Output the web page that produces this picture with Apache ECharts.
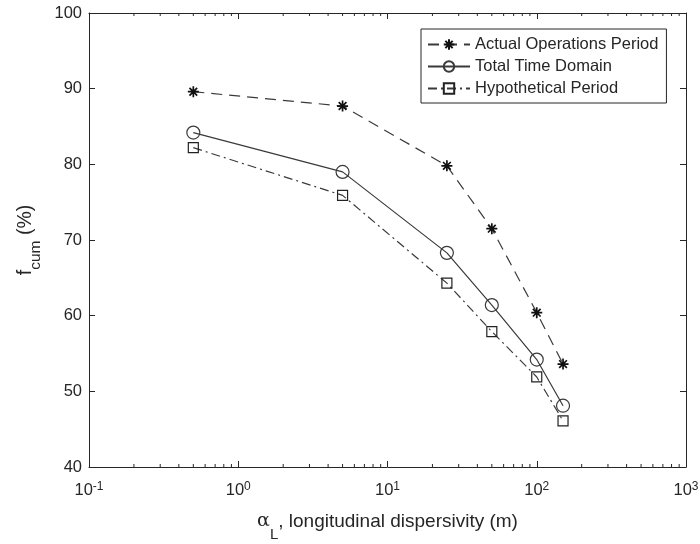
<!DOCTYPE html>
<html>
<head>
<meta charset="utf-8">
<script src="https://cdn.jsdelivr.net/npm/echarts@6/dist/echarts.min.js"></script>
<style>
  html, body { margin: 0; padding: 0; background: #fff; }
  #chart { width: 700px; height: 544px; }
</style>
</head>
<body>
<div id="chart"></div>
<script>
// Longitudinal dispersivity values (m) on the log x axis
const dispersivity = [0.5, 5, 25, 50, 100, 150];

// Cumulative fraction f_cum (%) for each period
const actualOps    = [89.6, 87.7, 79.8, 71.5, 60.4, 53.6];
const totalTime    = [84.2, 79.0, 68.3, 61.4, 54.2, 48.1];
const hypothetical = [82.2, 75.9, 64.3, 57.9, 51.9, 46.1];

const seriesNames = ['Actual Operations Period', 'Total Time Domain', 'Hypothetical Period'];

// Minor tick positions of the log axis (2..9 x 10^k)
const minorTicks = [];
for (let k = -1; k < 3; k++) {
  for (let m = 2; m <= 9; m++) minorTicks.push(m * Math.pow(10, k));
}

const ink = '#262626';
const lineInk = '#3a3a3a';
const font = 'Liberation Sans, Arial, Helvetica, sans-serif';

const pair = (xs, ys) => xs.map((x, i) => [x, ys[i]]);

const starPath = 'path://M5,0L5,10M0,5L10,5M1.5,1.5L8.5,8.5M1.5,8.5L8.5,1.5';

const chart = echarts.init(document.getElementById('chart'), null, { renderer: 'canvas' });

chart.setOption({
  animation: false,
  backgroundColor: '#fff',
  textStyle: { fontFamily: font },
  grid: { left: 89, right: 14, top: 13, bottom: 77, show: false, containLabel: false, outerBoundsMode: 'none' },
  legend: {
    data: seriesNames,
    orient: 'vertical',
    left: 421,
    top: 29,
    itemWidth: 42,
    itemHeight: 13,
    itemGap: 5,
    padding: [7, 8, 6, 6],
    borderColor: ink,
    borderWidth: 1,
    backgroundColor: '#fff',
    textStyle: { fontSize: 16.5, color: ink, fontFamily: font }
  },
  xAxis: [
    {
      type: 'log',
      logBase: 10,
      min: 0.1,
      max: 1000,
      position: 'bottom',
      name: '{a|α}{sub|L}{b|, longitudinal dispersivity (m)}',
      nameLocation: 'middle',
      nameGap: 45,
      nameTextStyle: {
        rich: {
          a: { fontSize: 19, color: ink, fontFamily: 'DejaVu Serif, serif', lineHeight: 30, verticalAlign: 'top' },
          sub: { fontSize: 15, color: ink, fontFamily: font, lineHeight: 30, verticalAlign: 'bottom' },
          b: { fontSize: 19, color: ink, fontFamily: font, lineHeight: 30, verticalAlign: 'top' }
        }
      },
      axisLine: { show: true, onZero: false, lineStyle: { color: ink, width: 1 } },
      axisTick: { show: true, inside: true, length: 6, lineStyle: { color: ink } },
      splitLine: { show: false },
      axisLabel: {
        margin: 14,
        formatter: v => '{b|10}{sup|' + Math.round(Math.log10(v)) + '}',
        rich: {
          b: { fontSize: 16.5, color: ink, fontFamily: font, lineHeight: 18, verticalAlign: 'bottom' },
          sup: { fontSize: 12, color: ink, fontFamily: font, lineHeight: 18, verticalAlign: 'top' }
        }
      }
    },
    {
      type: 'log',
      logBase: 10,
      min: 0.1,
      max: 1000,
      position: 'top',
      axisLine: { show: true, onZero: false, lineStyle: { color: ink, width: 1 } },
      axisTick: { show: true, inside: true, length: 6, lineStyle: { color: ink } },
      axisLabel: { show: false },
      splitLine: { show: false }
    }
  ],
  yAxis: [
    {
      type: 'value',
      min: 40,
      max: 100,
      interval: 10,
      position: 'left',
      name: '{b|f}{sub|cum}{b| (%)}',
      nameLocation: 'middle',
      nameGap: 41,
      nameTextStyle: {
        rich: {
          b: { fontSize: 19.5, color: ink, fontFamily: font, lineHeight: 28, verticalAlign: 'top' },
          sub: { fontSize: 15.5, color: ink, fontFamily: font, lineHeight: 28, verticalAlign: 'bottom' }
        }
      },
      axisLine: { show: true, onZero: false, lineStyle: { color: ink, width: 1 } },
      axisTick: { show: true, inside: true, length: 6, lineStyle: { color: ink } },
      splitLine: { show: false },
      axisLabel: { fontSize: 16.5, color: ink, margin: 7, fontFamily: font }
    },
    {
      type: 'value',
      min: 40,
      max: 100,
      interval: 10,
      position: 'right',
      axisLine: { show: true, onZero: false, lineStyle: { color: ink, width: 1 } },
      axisTick: { show: true, inside: true, length: 6, lineStyle: { color: ink } },
      axisLabel: { show: false },
      splitLine: { show: false }
    }
  ],
  series: [
    {
      name: seriesNames[0],
      type: 'line',
      data: pair(dispersivity, actualOps),
      symbol: starPath,
      symbolSize: 11,
      lineStyle: { color: lineInk, width: 1.2, type: [11, 7] },
      itemStyle: { color: 'transparent', borderColor: '#111', borderWidth: 1.7 },
      z: 3
    },
    {
      name: seriesNames[1],
      type: 'line',
      data: pair(dispersivity, totalTime),
      symbol: 'circle',
      symbolSize: 13,
      lineStyle: { color: lineInk, width: 1.2, type: 'solid' },
      itemStyle: { color: 'transparent', borderColor: lineInk, borderWidth: 1.2 },
      z: 3
    },
    {
      name: seriesNames[2],
      type: 'line',
      data: pair(dispersivity, hypothetical),
      symbol: 'rect',
      symbolSize: 10,
      lineStyle: { color: lineInk, width: 1.2, type: [9, 4, 2, 4] },
      itemStyle: { color: 'transparent', borderColor: '#222', borderWidth: 1.2 },
      z: 3
    },
    {
      // minor ticks of the log axis, bottom and top edges
      type: 'custom',
      silent: true,
      xAxisIndex: 0,
      yAxisIndex: 0,
      data: minorTicks.map(v => [v, 40]),
      renderItem: (params, api) => {
        const bottom = api.coord([api.value(0), 40]);
        const top = api.coord([api.value(0), 100]);
        const style = { stroke: ink, lineWidth: 1 };
        return {
          type: 'group',
          children: [
            { type: 'line', shape: { x1: bottom[0], y1: bottom[1], x2: bottom[0], y2: bottom[1] - 3 }, style },
            { type: 'line', shape: { x1: top[0], y1: top[1], x2: top[0], y2: top[1] + 3 }, style }
          ]
        };
      },
      z: 2
    }
  ]
});
</script>
</body>
</html>
